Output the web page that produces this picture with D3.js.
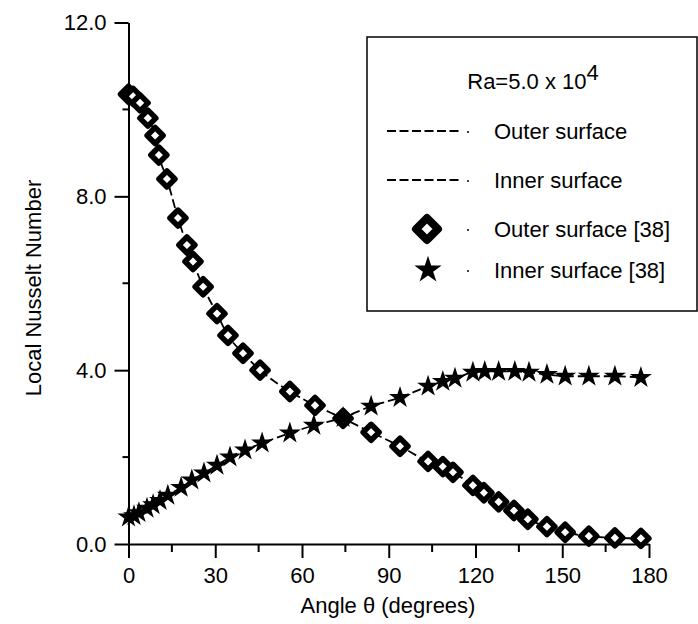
<!DOCTYPE html>
<html>
<head>
<meta charset="utf-8">
<script src="https://cdn.jsdelivr.net/npm/d3@7"></script>
<style>
  body { margin: 0; background: #fff; }
  text { font-family: "Liberation Sans", Arial, sans-serif; fill: #000; }
</style>
</head>
<body>
<svg id="chart" width="698" height="624"></svg>
<script>
// angle (degrees) and local Nusselt number
const outerAngle = [0, 1.6, 4, 6.7, 9.2, 10.5, 13.3, 17.1, 20.2, 22.3, 25.8, 30.6, 34.4, 39.6, 45.5, 55.8, 64.5, 74.2,
  83.9, 93.9, 103.6, 108.7, 112.2, 119.1, 122.9, 128, 133.3, 138.1, 144.7, 151, 159.2, 168.2, 177.2];
const outerNu = [10.35, 10.3, 10.15, 9.8, 9.4, 8.95, 8.4, 7.5, 6.88, 6.5, 5.92, 5.3, 4.8, 4.39, 4.0, 3.51, 3.19, 2.89,
  2.57, 2.25, 1.9, 1.78, 1.65, 1.35, 1.18, 0.97, 0.77, 0.57, 0.4, 0.27, 0.18, 0.14, 0.13];

const innerAngle = [0, 1.9, 3.6, 6.4, 8.5, 10.9, 13.6, 18.2, 21.9, 26.1, 30.6, 35.1, 40.3, 46.2, 55.8, 64.1, 74.2,
  83.9, 93.9, 103.6, 108.7, 112.9, 119.1, 123.2, 128, 133.6, 138.5, 144.7, 151, 159.2, 168.2, 177.2];
const innerNu = [0.62, 0.65, 0.72, 0.82, 0.9, 1.0, 1.12, 1.3, 1.47, 1.63, 1.81, 2.0, 2.16, 2.32, 2.55, 2.73, 2.91,
  3.17, 3.37, 3.63, 3.74, 3.81, 3.95, 3.97, 3.97, 3.97, 3.95, 3.9, 3.86, 3.86, 3.86, 3.83];

const xTicks = [0, 30, 60, 90, 120, 150, 180];
const xMinor = [15, 45, 75, 105, 135, 165];
const yTicks = [0, 4, 8, 12];
const yMinor = [2, 6, 10];

const legendItems = ["Outer surface", "Inner surface", "Outer surface [38]", "Inner surface [38]"];

const svg = d3.select("#chart");
const fs = "22px";

let x = d3.scaleLinear().domain([0, 180]).range([128.5, 649]);
let y = d3.scaleLinear().domain([0, 12]).range([544, 22.5]);

const outer = outerAngle.map((a, i) => ({a: a, v: outerNu[i]}));
const inner = innerAngle.map((a, i) => ({a: a, v: innerNu[i]}));

// axes
let xAxis = d3.axisBottom(x).tickValues(xTicks).tickSize(14).tickSizeOuter(0).tickPadding(9);
let gx = svg.append("g").attr("transform", "translate(0,544)").call(xAxis);
gx.append("g").selectAll("line").data(xMinor).enter().append("line")
  .attr("x1", d => x(d)).attr("x2", d => x(d))
  .attr("y1", 0).attr("y2", 8)
  .attr("stroke", "#000").attr("stroke-width", 2);

let yAxis = d3.axisLeft(y).tickValues(yTicks).tickSize(14).tickSizeOuter(0).tickPadding(8)
  .tickFormat(d3.format(".1f"));
let gy = svg.append("g").attr("transform", "translate(128.5,0)").call(yAxis);
gy.append("g").selectAll("line").data(yMinor).enter().append("line")
  .attr("x1", 0).attr("x2", -6)
  .attr("y1", d => y(d)).attr("y2", d => y(d))
  .attr("stroke", "#000").attr("stroke-width", 2);

[gx, gy].forEach(g => {
  g.select(".domain").attr("stroke-width", 2);
  g.selectAll(".tick line").attr("stroke-width", 2);
  g.selectAll("text").style("font-size", fs).attr("font-family", null).style("fill", "#000");
});

svg.append("text").attr("x", 388).attr("y", 613).attr("text-anchor", "middle")
  .style("font-size", fs).text("Angle \u03b8 (degrees)");
svg.append("text").attr("transform", "translate(41,288) rotate(-90)").attr("text-anchor", "middle")
  .style("font-size", fs).text("Local Nusselt Number");

// curves
let line = d3.line().x(d => x(d.a)).y(d => y(d.v)).curve(d3.curveMonotoneX);
[outer, inner].forEach(s => {
  svg.append("path").datum(s).attr("d", line)
    .attr("fill", "none").attr("stroke", "#000").attr("stroke-width", 1.8)
    .attr("stroke-dasharray", "9,4");
});

// markers
function diamond(r) {
  return `M0,${-r}L${r},0L0,${r}L${-r},0Z`;
}
let star = d3.symbol().type(d3.symbolStar);

svg.append("g").selectAll("path").data(outer).enter().append("path")
  .attr("transform", d => `translate(${x(d.a)},${y(d.v)})`)
  .attr("d", diamond(8))
  .attr("fill", "#fff").attr("stroke", "#000").attr("stroke-width", 5.5)
  .attr("stroke-linejoin", "round");

svg.append("g").selectAll("path").data(inner).enter().append("path")
  .attr("transform", d => `translate(${x(d.a)},${y(d.v)})`)
  .attr("d", star.size(150)())
  .attr("fill", "#000");

// legend
let lg = svg.append("g");
lg.append("rect").attr("x", 367).attr("y", 37).attr("width", 330).attr("height", 274)
  .attr("fill", "#fff").attr("stroke", "#000").attr("stroke-width", 1.5);

let title = lg.append("text").attr("x", 533).attr("y", 89).attr("text-anchor", "middle")
  .style("font-size", fs);
title.append("tspan").text("Ra=5.0 x 10");
title.append("tspan").attr("dy", -9).text("4");

let rowY = [131, 180, 229, 270];
legendItems.forEach((t, i) => {
  lg.append("text").attr("x", 494).attr("y", rowY[i] + 8).style("font-size", fs).text(t);
  lg.append("circle").attr("cx", 468).attr("cy", rowY[i] + 1).attr("r", 1).attr("fill", "#000");
  if (i < 2) {
    lg.append("line").attr("x1", 387).attr("x2", 461).attr("y1", rowY[i]).attr("y2", rowY[i])
      .attr("stroke", "#000").attr("stroke-width", 1.8).attr("stroke-dasharray", "9,3.5");
  }
});
lg.append("path").attr("transform", `translate(427,${rowY[2]})`).attr("d", diamond(11))
  .attr("fill", "#fff").attr("stroke", "#000").attr("stroke-width", 8).attr("stroke-linejoin", "round");
lg.append("path").attr("transform", `translate(428,${rowY[3]})`).attr("d", star.size(230)())
  .attr("fill", "#000");
</script>
</body>
</html>
